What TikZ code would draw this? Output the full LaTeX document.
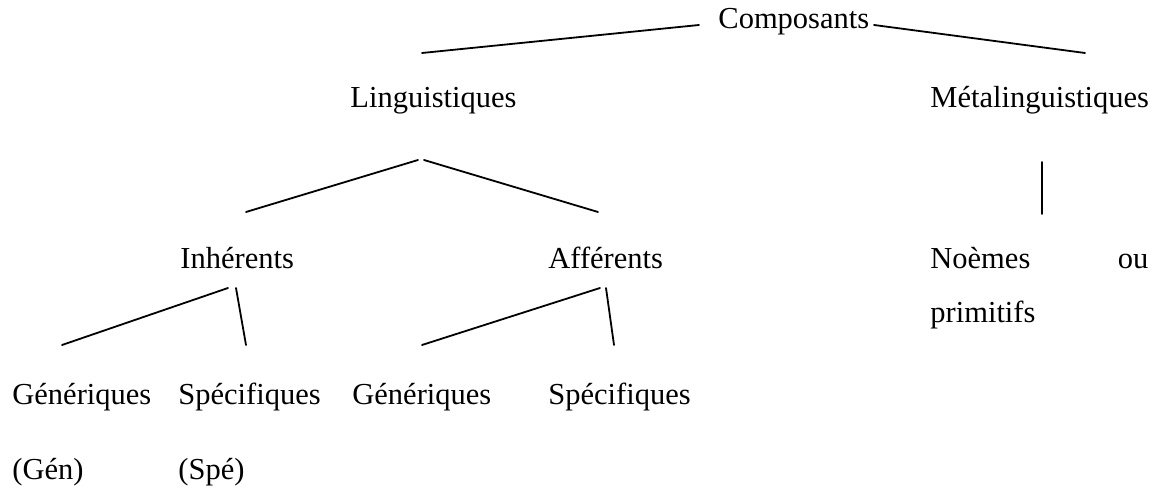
\documentclass[tikz,border=0pt]{standalone}
\usepackage{fontspec}
\setmainfont{Liberation Serif}
\usetikzlibrary{positioning}
\tikzset{
  every picture/.style={line cap=round, line join=round},
  term/.style={font=\fontsize{15.25pt}{27pt}\selectfont, text=black, inner sep=0pt, anchor=base west},
  branch/.style={line width=0.9pt, draw=black}
}

\begin{document}
\begin{tikzpicture}[x=0.5pt, y=-0.5pt]
  \useasboundingbox (0,0) rectangle (1154,490);

  % Top: Composants and its two kinds
  \node[term] (comp) at (718,29) {Composants};
  \node[term] (ling) at (350,108) {Linguistiques};
  \node[term] (meta) at (930,108) {Métalinguistiques};
  \coordinate (compL) at (699,25);
  \coordinate (compR) at (874,25);
  \coordinate (lingT) at (422,53);
  \coordinate (metaT) at (1085,53);
  \draw[branch] (compL) -- (lingT);
  \draw[branch] (compR) -- (metaT);

  % Middle: Linguistiques -> Inhérents / Afférents, Métalinguistiques -> Noèmes
  \node[term] (inh) at (180,269) {Inhérents};
  \node[term] (aff) at (548,269) {Afférents};
  \node[term, text width=109pt, align=left] (noem) at (930,269) {Noèmes\hfill ou\\primitifs};
  \coordinate (lingL) at (418,160);
  \coordinate (lingR) at (424,160);
  \coordinate (inhT) at (246,212);
  \coordinate (affT) at (598,212);
  \coordinate (metaB) at (1042,162);
  \coordinate (noemT) at (1042,214);
  \draw[branch] (lingL) -- (inhT);
  \draw[branch] (lingR) -- (affT);
  \draw[branch] (metaB) -- (noemT);

  % Bottom: Génériques / Spécifiques
  \node[term] (genI) at (12,405) {Génériques};
  \node[term] (speI) at (178,405) {Spécifiques};
  \node[term] (genA) at (352,405) {Génériques};
  \node[term] (speA) at (548,405) {Spécifiques};
  \node[term] (genIab) at (12,480) {(Gén)};
  \node[term] (speIab) at (178,480) {(Spé)};
  \coordinate (inhL) at (228,288);
  \coordinate (inhR) at (236,288);
  \coordinate (affL) at (600,288);
  \coordinate (affR) at (606,288);
  \coordinate (genIT) at (62,345);
  \coordinate (speIT) at (246,345);
  \coordinate (genAT) at (422,345);
  \coordinate (speAT) at (614,345);
  \draw[branch] (inhL) -- (genIT);
  \draw[branch] (inhR) -- (speIT);
  \draw[branch] (affL) -- (genAT);
  \draw[branch] (affR) -- (speAT);
\end{tikzpicture}
\end{document}
